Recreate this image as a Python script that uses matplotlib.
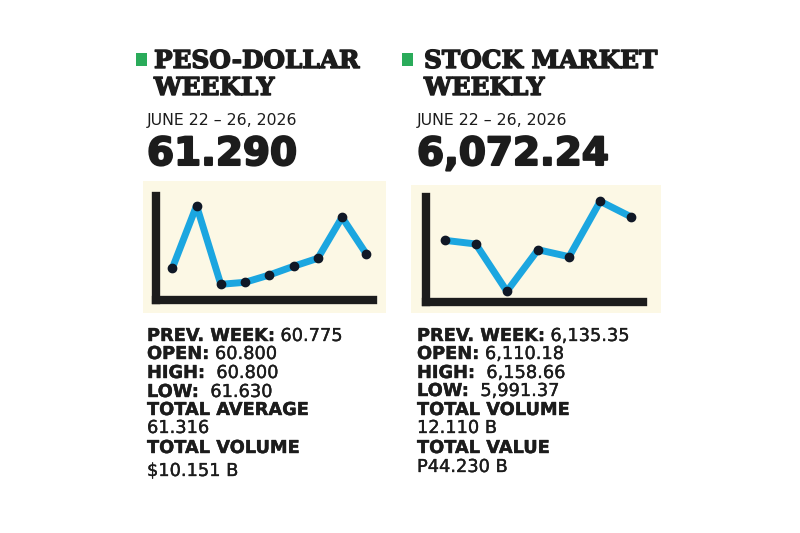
import matplotlib.pyplot as plt
import matplotlib.patheffects as pe
from matplotlib.patches import Rectangle

# ---------------------------------------------------------------------------
# Data (chart heights are relative levels)
# ---------------------------------------------------------------------------
peso_title = ["PESO-DOLLAR", "WEEKLY"]
stock_title = ["STOCK MARKET", "WEEKLY"]
week_label = "JUNE 22 \u2013 26, 2026"

peso_close = "61.290"
stock_close = "6,072.24"

peso_days = list(range(9))
peso_level = [31.7, 94.3, 15.7, 17.7, 25.0, 33.7, 41.7, 82.7, 46.0]

stock_days = list(range(7))
stock_level = [61.7, 58.0, 10.7, 52.3, 45.3, 100.7, 85.0]

# (bold label, regular value) rows; None value = label alone on its row
peso_stats = [
    ("PREV. WEEK:", " 60.775"),
    ("OPEN:", " 60.800"),
    ("HIGH:", "  60.800"),
    ("LOW:", "  61.630"),
    ("TOTAL AVERAGE", None),
    (None, "61.316"),
    ("TOTAL VOLUME", None),
    (None, "$10.151 B"),
]
stock_stats = [
    ("PREV. WEEK:", " 6,135.35"),
    ("OPEN:", " 6,110.18"),
    ("HIGH:", "  6,158.66"),
    ("LOW:", "  5,991.37"),
    ("TOTAL VOLUME", None),
    (None, "12.110 B"),
    ("TOTAL VALUE", None),
    (None, "P44.230 B"),
]

# ---------------------------------------------------------------------------
# Styling
# ---------------------------------------------------------------------------
W, H = 800, 533
INK = "#1c1c1c"
GREEN = "#2aab5a"
CREAM = "#fcf8e5"
BLUE = "#1ba6e0"
DOT = "#101826"
STAT_SIZE = 12.8

fig = plt.figure(figsize=(W / 100, H / 100), dpi=100)
fig.patch.set_facecolor("white")


def fx(x):
    return x / W


def fy(y):
    return 1 - y / H


def px_rect(x0, y0, x1, y1):
    """Figure-fraction [left, bottom, width, height] from pixel box (top-left origin)."""
    return [fx(x0), fy(y1), (x1 - x0) / W, (y1 - y0) / H]


def _heavy(w):
    return [pe.withStroke(linewidth=w, foreground=INK)]


def _header(x_sq, x_txt, x_body, title, close):
    fig.add_artist(Rectangle((fx(x_sq), fy(66)), 11 / W, 13 / H,
                             transform=fig.transFigure, color=GREEN, lw=0))
    for line, yb in zip(title, (68, 95)):
        fig.text(fx(x_txt), fy(yb), line, family="DejaVu Serif",
                 weight="bold", size=17.8, color=INK, va="baseline",
                 path_effects=_heavy(1.0))
    fig.text(fx(x_body), fy(125), week_label, family="DejaVu Sans",
             size=11.3, color=INK, va="baseline")
    fig.text(fx(x_body), fy(165), close, family="DejaVu Sans",
             weight="bold", size=28, color=INK, va="baseline",
             path_effects=_heavy(1.5))


def _chart(cream_box, ax_box, days, level, xlim, ylim):
    x0, y0, x1, y1 = cream_box
    fig.add_artist(Rectangle((fx(x0), fy(y1)), (x1 - x0) / W, (y1 - y0) / H,
                             transform=fig.transFigure, color=CREAM, lw=0,
                             zorder=0))
    ax = fig.add_axes(px_rect(*ax_box))
    ax.set_facecolor("none")
    for side in ("top", "right"):
        ax.spines[side].set_visible(False)
    for side in ("left", "bottom"):
        ax.spines[side].set_linewidth(6)
        ax.spines[side].set_color(INK)
        ax.spines[side].set_capstyle("projecting")
    ax.set_xticks([])
    ax.set_yticks([])
    ax.plot(days, level, color=BLUE, lw=5, solid_capstyle="round",
            solid_joinstyle="round", clip_on=False, zorder=3)
    ax.plot(days, level, "o", color=DOT, ms=6, clip_on=False, zorder=4)
    ax.set_xlim(*xlim)
    ax.set_ylim(*ylim)
    return ax


def _stats(x, rows, baselines):
    for (label, value), yb in zip(rows, baselines):
        if label is not None:
            t = fig.text(fx(x), fy(yb), label, family="DejaVu Sans",
                         weight="bold", size=STAT_SIZE, color=INK,
                         va="baseline", path_effects=_heavy(0.3))
            if value is not None:
                fig.add_artist(plt.Annotation(
                    value, xy=(1, 0), xycoords=t, va="bottom", ha="left",
                    family="DejaVu Sans", size=STAT_SIZE, color=INK,
                    annotation_clip=False, parse_math=False,
                    path_effects=_heavy(0.25)))
        else:
            fig.text(fx(x), fy(yb), value, family="DejaVu Sans",
                     size=STAT_SIZE, color=INK, va="baseline",
                     parse_math=False, path_effects=_heavy(0.25))


# ---------------------------------------------------------------------------
# Left panel: peso-dollar
# ---------------------------------------------------------------------------
_header(136, 154, 147, peso_title, peso_close)
_chart((143, 181, 386, 313), (156, 196, 373, 300), peso_days, peso_level,
       xlim=(-0.672, 8.276), ylim=(0, 104))
_stats(147, peso_stats, [341, 359, 378, 397, 415, 433, 453, 476])

# ---------------------------------------------------------------------------
# Right panel: stock market
# ---------------------------------------------------------------------------
_header(402, 424, 417, stock_title, stock_close)
_chart((411, 185, 661, 313), (425.5, 197, 643, 302), stock_days, stock_level,
       xlim=(-0.617, 6.376), ylim=(0, 105))
_stats(417, stock_stats, [341, 359, 378, 396, 415, 433, 453, 472])

fig.savefig("out.png", dpi=100)
